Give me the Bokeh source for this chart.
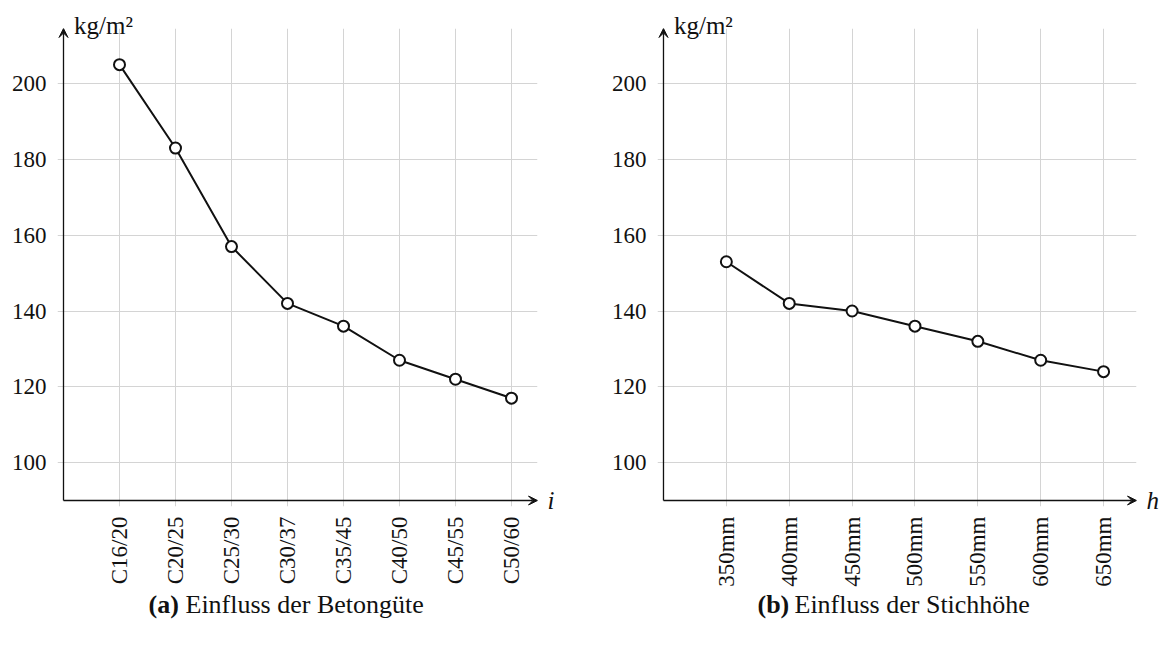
import math
from bokeh.plotting import figure
from bokeh.layouts import row, column
from bokeh.models import FixedTicker, Label, Arrow, VeeHead, LinearAxis
from bokeh.embed import file_html
from bokeh.resources import INLINE

# ---- data ----
grades = ["C16/20", "C20/25", "C25/30", "C30/37", "C35/45", "C40/50", "C45/55", "C50/60"]
mass_grade = [205, 183, 157, 142, 136, 127, 122, 117]

heights = ["350mm", "400mm", "450mm", "500mm", "550mm", "600mm", "650mm"]
mass_height = [153, 142, 140, 136, 132, 127, 124]

y_ticks = [100, 120, 140, 160, 180, 200]
y_unit = "kg/m²"
caption_a = ("(a)", "Einfluss der Betongüte")
caption_b = ("(b)", "Einfluss der Stichhöhe")
xlabel_a = "i"
xlabel_b = "h"

FONT = "Liberation Serif"
INK = "#111111"
GRID = "#d4d4d4"

Y_AXIS = 90          # value where the x axis sits
Y_PX = 3.79          # pixels per y unit
EXT = 6              # px the frame extends beyond the axes (acts as tick marks)
AXIS_LEN_X = 474     # px from y axis to arrow tip
AXIS_LEN_Y = 472
MAIN_H = 590
TOP = 28


def make_panel(cats, vals, x_px, width, border_left, xlabel):
    xs = list(range(1, len(cats) + 1))
    x_end = AXIS_LEN_X / x_px
    y_end = Y_AXIS + AXIS_LEN_Y / Y_PX
    frame_w = AXIS_LEN_X + EXT
    frame_h = AXIS_LEN_Y + EXT
    p = figure(width=width, height=MAIN_H, output_backend="svg", toolbar_location=None,
               x_range=(-EXT / x_px, x_end), y_range=(Y_AXIS - EXT / Y_PX, y_end),
               min_border_left=border_left, min_border_top=TOP,
               min_border_right=width - border_left - frame_w,
               min_border_bottom=MAIN_H - TOP - frame_h)
    p.outline_line_color = None
    p.background_fill_color = "white"
    p.border_fill_color = "white"

    xax = p.below[0]
    yax = p.left[0]
    xax.ticker = FixedTicker(ticks=xs)
    yax.ticker = FixedTicker(ticks=y_ticks)
    xax.major_label_overrides = {i: c for i, c in zip(xs, cats)}
    xax.major_label_orientation = math.pi / 2
    for ax in (xax, yax):
        ax.axis_line_color = None
        ax.major_tick_line_color = None
        ax.major_tick_in = 0
        ax.major_tick_out = 0
        ax.minor_tick_line_color = None
        ax.major_label_text_font = FONT
        ax.major_label_text_font_size = "23px"
        ax.major_label_text_color = INK
    xax.major_label_standoff = 10
    yax.major_label_standoff = 11

    p.xgrid.grid_line_color = GRID
    p.ygrid.grid_line_color = GRID
    p.xgrid.grid_line_width = 1
    p.ygrid.grid_line_width = 1

    # axes with arrow heads
    for (xe, ye) in ((x_end, Y_AXIS), (0, y_end)):
        p.add_layout(Arrow(end=VeeHead(size=9, line_color=INK, fill_color=INK, line_width=1),
                           x_start=0, y_start=Y_AXIS, x_end=xe, y_end=ye,
                           line_color=INK, line_width=1.3))

    # data
    p.line(xs, vals, line_color=INK, line_width=2)
    p.scatter(xs, vals, marker="circle", size=11, line_color=INK,
              line_width=2, fill_color="white")

    # x-axis name, to the right of the arrow tip
    rax = LinearAxis(ticker=FixedTicker(ticks=[Y_AXIS]),
                     major_label_overrides={Y_AXIS: xlabel},
                     axis_line_color=None, major_tick_line_color=None,
                     major_tick_in=0, major_tick_out=0, minor_tick_line_color=None,
                     major_label_text_font=FONT, major_label_text_font_style="italic",
                     major_label_text_font_size="25px", major_label_text_color=INK,
                     major_label_standoff=10)
    p.add_layout(rax, "right")

    # y-axis unit, to the right of the arrow tip
    unit_x = 40 / x_px
    aax = LinearAxis(ticker=FixedTicker(ticks=[unit_x]),
                     major_label_overrides={unit_x: y_unit},
                     axis_line_color=None, major_tick_line_color=None,
                     major_tick_in=0, major_tick_out=0, minor_tick_line_color=None,
                     major_label_text_font=FONT,
                     major_label_text_font_size="25px", major_label_text_color=INK,
                     major_label_standoff=-10)
    p.add_layout(aax, "above")
    return p


p1 = make_panel(grades, mass_grade, 56, 580, 63 - EXT, xlabel_a)
p2 = make_panel(heights, mass_height, 63, 582, 663 - 580 - EXT, xlabel_b)

# caption strip
CAP_H = 59
cap = figure(width=1162, height=CAP_H, output_backend="svg", toolbar_location=None,
             x_range=(0, 1162), y_range=(0, CAP_H), min_border=0)
cap.axis.visible = False
cap.grid.visible = False
cap.outline_line_color = None
cap.border_fill_color = "white"
cap.background_fill_color = "white"

for (bold, rest), start in ((caption_a, 148), (caption_b, 757)):
    cap.add_layout(Label(x=start, y=CAP_H - 14, text=bold, text_font=FONT,
                         text_font_style="bold", text_font_size="26px",
                         text_baseline="middle", text_align="left", text_color=INK))
    cap.add_layout(Label(x=start + 37, y=CAP_H - 14, text=rest, text_font=FONT,
                         text_font_size="26px", text_baseline="middle",
                         text_align="left", text_color=INK))

layout = column(row(p1, p2), cap)
open("out.html", "w").write(file_html(layout, INLINE))
